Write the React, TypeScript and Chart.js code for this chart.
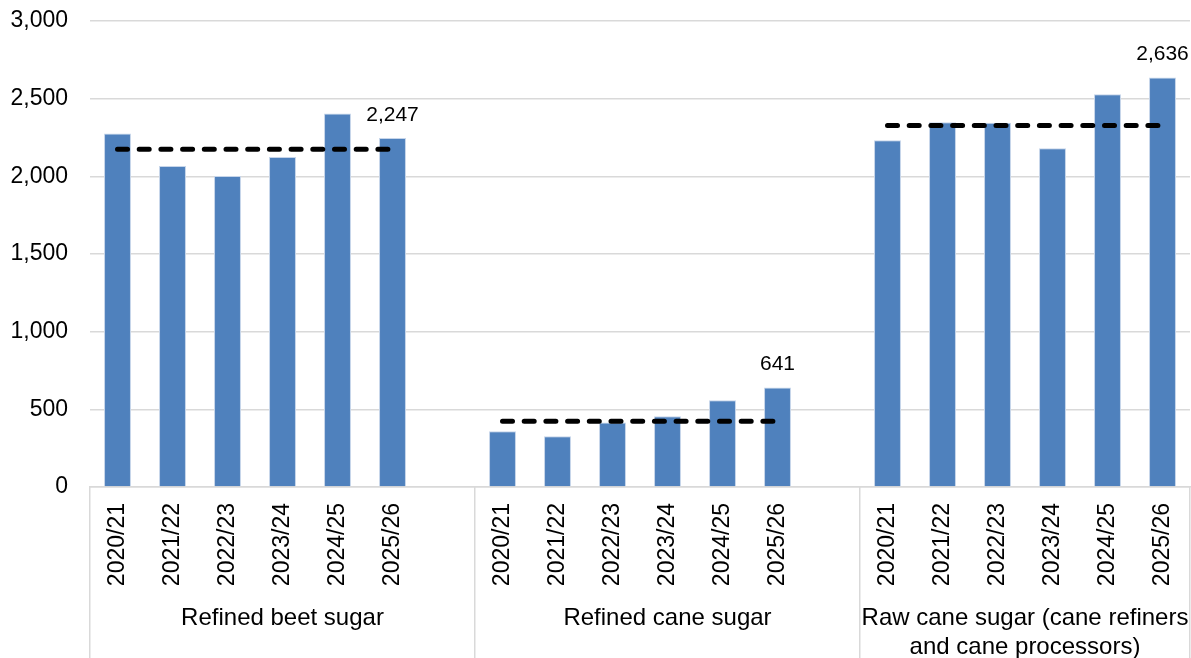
import React, { useEffect, useRef } from "react";
import { Chart, registerables } from "chart.js";

Chart.register(...registerables);

const years = ["2020/21", "2021/22", "2022/23", "2023/24", "2024/25", "2025/26"];
const groupNames: string[][] = [
  ["Refined beet sugar"],
  ["Refined cane sugar"],
  ["Raw cane sugar (cane refiners", "and cane processors)"],
];
const beetSugar = [2275, 2067, 2002, 2124, 2404, 2247];
const caneSugar = [359, 326, 416, 455, 558, 641];
const rawCaneSugar = [2232, 2348, 2345, 2180, 2528, 2636];
const fiveYearAverages = [2174, 423, 2327];
const yTicks = [0, 500, 1000, 1500, 2000, 2500, 3000];

const FONT = "'Liberation Sans', Arial, sans-serif";
const FONT_SIZE = 23;

const groupsData = [beetSugar, caneSugar, rawCaneSugar];

// Build flat category list: 6 years, gap, 6 years, gap, 6 years
const labels: string[] = [];
const barValues: (number | null)[] = [];
const groupStart: number[] = [];
const groupEnd: number[] = [];
groupsData.forEach((g, gi) => {
  groupStart.push(labels.length);
  g.forEach((v, i) => {
    labels.push(years[i]);
    barValues.push(v);
  });
  if (gi < groupsData.length - 1) {
    labels.push("");
    barValues.push(null);
  }
  groupEnd.push(labels.length);
});

const avgDatasets = fiveYearAverages.map((avg, gi) => {
  const data: (number | null)[] = labels.map(() => null);
  for (let i = 0; i < years.length; i++) data[groupStart[gi] + i] = avg;
  return {
    type: "line" as const,
    data,
    borderColor: "#000000",
    borderWidth: 5,
    borderDash: [10, 11.7],
    borderCapStyle: "round" as const,
    pointRadius: 0,
    pointHoverRadius: 0,
    fill: false,
    tension: 0,
    spanGaps: false,
    order: 1,
  };
});

const labelIndices = groupsData.map((g, gi) => groupStart[gi] + g.length - 1);

const overlayPlugin = {
  id: "overlay",
  afterDraw(chart: any) {
    const ctx = chart.ctx;
    const x = chart.scales.x;
    const y = chart.scales.y;
    const slot = x.getPixelForValue(1) - x.getPixelForValue(0);
    const bottom = chart.height;
    ctx.save();
    ctx.strokeStyle = "#d9d9d9";
    ctx.lineWidth = 1.5;
    const seps: number[] = [groupStart[0]];
    groupEnd.forEach((e) => seps.push(e));
    seps.forEach((idx) => {
      const px = Math.round(x.getPixelForValue(idx) - slot / 2) - 0.25;
      ctx.beginPath();
      ctx.moveTo(px, chart.chartArea.bottom);
      ctx.lineTo(px, bottom);
      ctx.stroke();
    });
    ctx.fillStyle = "#000000";
    ctx.font = `24px ${FONT}`;
    ctx.textAlign = "center";
    ctx.textBaseline = "middle";
    groupNames.forEach((lines, gi) => {
      const left = x.getPixelForValue(groupStart[gi]) - slot / 2;
      const right = x.getPixelForValue(groupEnd[gi]) - slot / 2;
      const cx = (left + right) / 2;
      lines.forEach((line, li) => {
        ctx.fillText(line, cx, 618 + li * 29);
      });
    });
    ctx.font = `21px ${FONT}`;
    labelIndices.forEach((idx) => {
      const v = barValues[idx] as number;
      const px = x.getPixelForValue(idx);
      const py = y.getPixelForValue(v) - 23;
      ctx.fillText(v.toLocaleString("en-US"), px, py);
    });
    ctx.restore();
  },
};

export default function App() {
  const canvasRef = useRef<HTMLCanvasElement | null>(null);

  useEffect(() => {
    if (!canvasRef.current) return;
    const chart = new Chart(canvasRef.current, {
      type: "bar",
      data: {
        labels,
        datasets: [
          ...(avgDatasets as any[]),
          {
            type: "bar",
            data: barValues,
            backgroundColor: "#4f81bd",
            borderColor: "#c6d5ea",
            borderWidth: 1,
            barPercentage: 0.49,
            categoryPercentage: 1,
            order: 2,
          },
        ],
      },
      options: {
        animation: false,
        responsive: false,
        maintainAspectRatio: false,
        layout: { padding: { top: 21, right: 1, left: 0, bottom: 0 } },
        plugins: {
          legend: { display: false },
          tooltip: { enabled: false },
        },
        scales: {
          x: {
            type: "category",
            grid: { display: false, drawTicks: false },
            border: { display: true, color: "#d9d9d9", width: 1.5 },
            ticks: {
              autoSkip: false,
              minRotation: 90,
              maxRotation: 90,
              padding: 16,
              color: "#000000",
              font: { family: FONT, size: FONT_SIZE },
            },
            afterFit(scale: any) {
              scale.height = 171;
              scale.paddingLeft = 0;
              scale.paddingRight = 0;
            },
          },
          y: {
            min: 0,
            max: 3000,
            afterBuildTicks(scale: any) {
              scale.ticks = yTicks.map((v) => ({ value: v }));
            },
            grid: { color: "#d9d9d9", lineWidth: 1.5, drawTicks: false },
            border: { display: false },
            ticks: {
              padding: 22,
              color: "#000000",
              font: { family: FONT, size: FONT_SIZE },
              callback: (v: any) => Number(v).toLocaleString("en-US"),
            },
            afterFit(scale: any) {
              scale.width = 90;
              scale.paddingTop = 0;
              scale.paddingBottom = 0;
            },
          },
        },
      },
      plugins: [overlayPlugin],
    });
    return () => chart.destroy();
  }, []);

  return (
    <div style={{ position: "absolute", left: 0, top: 0, width: 1191, height: 658, background: "#ffffff" }}>
      <canvas ref={canvasRef} width={1191} height={658} style={{ display: "block" }} />
    </div>
  );
}
